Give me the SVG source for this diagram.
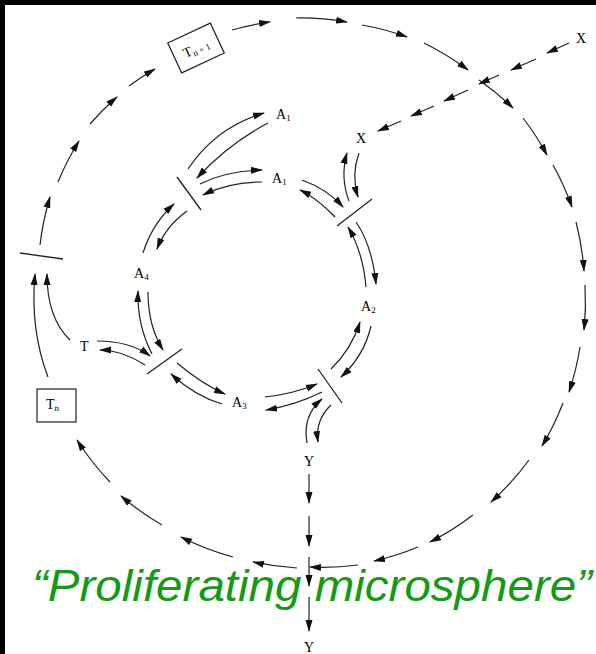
<svg xmlns="http://www.w3.org/2000/svg" width="596" height="654" viewBox="0 0 596 654">
<defs>
<marker id="ah" markerWidth="12" markerHeight="8" refX="11" refY="4" orient="auto" markerUnits="userSpaceOnUse"><path d="M0,0.5 L12,4 L0,7.5 Z" fill="#111"/></marker>
<style>
.c{fill:none;stroke:#222;stroke-width:1.2;marker-end:url(#ah)}
.bar{stroke:#222;stroke-width:1.3}
.box{fill:#fff;stroke:#222;stroke-width:1.2}
.lb{font-family:"Liberation Serif","DejaVu Serif",serif;font-size:14px;fill:#000}
.sb{font-size:9px}
.big{font-family:"Liberation Sans",Arial,sans-serif;font-style:italic;font-size:44px;fill:#159a15}
</style>
</defs>
<rect x="0" y="0" width="596" height="654" fill="#000"/>
<rect x="5" y="5" width="591" height="649" fill="#fff"/>

<g id="connectors">
<!-- outer circle dashes -->
<path class="c" d="M40,245 A274,274 0 0,1 50,197"/>
<path class="c" d="M58,182 A274,274 0 0,1 79,141"/>
<path class="c" d="M90,124 A274,274 0 0,1 117,97"/>
<path class="c" d="M129,86 A274,274 0 0,1 155,69"/>
<path class="c" d="M232,30 A274,274 0 0,1 270,22"/>
<path class="c" d="M296,18 A274,274 0 0,1 347,22"/>
<path class="c" d="M362,25 A274,274 0 0,1 407,37"/>
<path class="c" d="M424,43 A274,274 0 0,1 468,70"/>
<path class="c" d="M479,80 A274,274 0 0,1 513,108"/>
<path class="c" d="M523,118 A274,274 0 0,1 547,155"/>
<path class="c" d="M553,165 A274,274 0 0,1 572,207"/>
<path class="c" d="M576,222 A274,274 0 0,1 584,271"/>
<path class="c" d="M585,285 A274,274 0 0,1 584,330"/>
<path class="c" d="M580,347 A274,274 0 0,1 569,392"/>
<path class="c" d="M563,403 A274,274 0 0,1 542,446"/>
<path class="c" d="M529,460 A274,274 0 0,1 491,502"/>
<path class="c" d="M473,515 A274,274 0 0,1 430,542"/>
<path class="c" d="M418,547 A274,274 0 0,1 374,561"/>
<path class="c" d="M358,565 A274,274 0 0,1 310,567"/>
<path class="c" d="M297,568 A274,274 0 0,1 253,562"/>
<path class="c" d="M233,557 A274,274 0 0,1 181,537"/>
<path class="c" d="M162,525 A274,274 0 0,1 121,496"/>
<path class="c" d="M110,482 A274,274 0 0,1 77,440"/>
<!-- X dashed line -->
<path class="c" d="M569,43 L547,53"/>
<path class="c" d="M536,59 L511,70"/>
<path class="c" d="M499,75 L479,84"/>
<path class="c" d="M468,90 L444,101"/>
<path class="c" d="M434,106 L411,116"/>
<path class="c" d="M401,121 L378,131"/>
<!-- Y vertical dashes -->
<path class="c" d="M309,474 L309,503"/>
<path class="c" d="M309,516 L309,546"/>
<path class="c" d="M309,557 L309,586"/>
<path class="c" d="M309,597 L309,631"/>
<!-- inner reaction arrows -->
<path class="c" d="M188,169 Q216,127 264,113"/>
<path class="c" d="M268,123 Q228,144 197,178"/>
<path class="c" d="M200,184 Q225,171 262,170"/>
<path class="c" d="M262,182 Q229,182 203,195"/>
<path class="c" d="M302,180 Q327,189 343,207"/>
<path class="c" d="M335,217 Q318,199 300,190"/>
<path class="c" d="M349,201 Q340,177 347,153"/>
<path class="c" d="M359,153 Q351,175 358,197"/>
<path class="c" d="M366,287 Q363,252 348,227"/>
<path class="c" d="M356,222 Q372,245 376,284"/>
<path class="c" d="M331,369 Q351,350 360,322"/>
<path class="c" d="M371,326 Q364,356 341,377"/>
<path class="c" d="M265,397 Q293,394 317,384"/>
<path class="c" d="M322,392 Q296,405 266,410"/>
<path class="c" d="M307,443 Q302,416 322,399"/>
<path class="c" d="M331,405 Q315,420 318,442"/>
<path class="c" d="M177,363 Q202,384 225,394"/>
<path class="c" d="M222,404 Q195,396 171,374"/>
<path class="c" d="M152,354 Q137,325 138,291"/>
<path class="c" d="M148,292 Q148,326 163,350"/>
<path class="c" d="M97,341 Q130,341 150,356"/>
<path class="c" d="M145,365 Q122,350 100,350"/>
<path class="c" d="M143,253 Q152,224 174,204"/>
<path class="c" d="M187,211 Q166,226 157,249"/>
<path class="c" d="M70,340 Q47,318 47,274"/>
<path class="c" d="M48,377 Q30,330 35,274"/>
</g>

<g id="bar0"><line class="bar" x1="20" y1="253" x2="63" y2="259"/></g>
<g id="bar1"><line class="bar" x1="177" y1="177" x2="201" y2="210"/></g>
<g id="bar2"><line class="bar" x1="337" y1="226" x2="372" y2="199"/></g>
<g id="bar3"><line class="bar" x1="318" y1="369" x2="342" y2="403"/></g>
<g id="bar4"><line class="bar" x1="147" y1="374" x2="182" y2="349"/></g>

<g id="Tn1">
<rect class="box" x="172.5" y="31.5" width="47" height="33" transform="rotate(-25 196 48)"/>
<text class="lb" x="196" y="53" text-anchor="middle" font-size="13" transform="rotate(-25 196 48)">T<tspan class="sb" dy="2">n + 1</tspan></text>
</g>
<g id="Tn">
<rect class="box" x="37" y="389" width="39" height="33"/>
<text class="lb" x="46" y="409">T<tspan class="sb" dy="2">n</tspan></text>
</g>
<g id="A1o"><text class="lb" x="276" y="119">A<tspan class="sb" dy="2">1</tspan></text></g>
<g id="A1i"><text class="lb" x="272" y="183">A<tspan class="sb" dy="2">1</tspan></text></g>
<g id="A2"><text class="lb" x="361" y="311">A<tspan class="sb" dy="2">2</tspan></text></g>
<g id="A3"><text class="lb" x="232" y="407">A<tspan class="sb" dy="2">3</tspan></text></g>
<g id="A4"><text class="lb" x="134" y="278">A<tspan class="sb" dy="2">4</tspan></text></g>
<g id="T"><text class="lb" x="80" y="351">T</text></g>
<g id="Xo"><text class="lb" x="576" y="43">X</text></g>
<g id="Xi"><text class="lb" x="356" y="143">X</text></g>
<g id="Y1"><text class="lb" x="304" y="466">Y</text></g>
<g id="Y2"><text class="lb" x="304" y="652">Y</text></g>

<g id="title"><text class="big" x="32" y="601" textLength="560" lengthAdjust="spacingAndGlyphs">“Proliferating microsphere”</text></g>
</svg>
